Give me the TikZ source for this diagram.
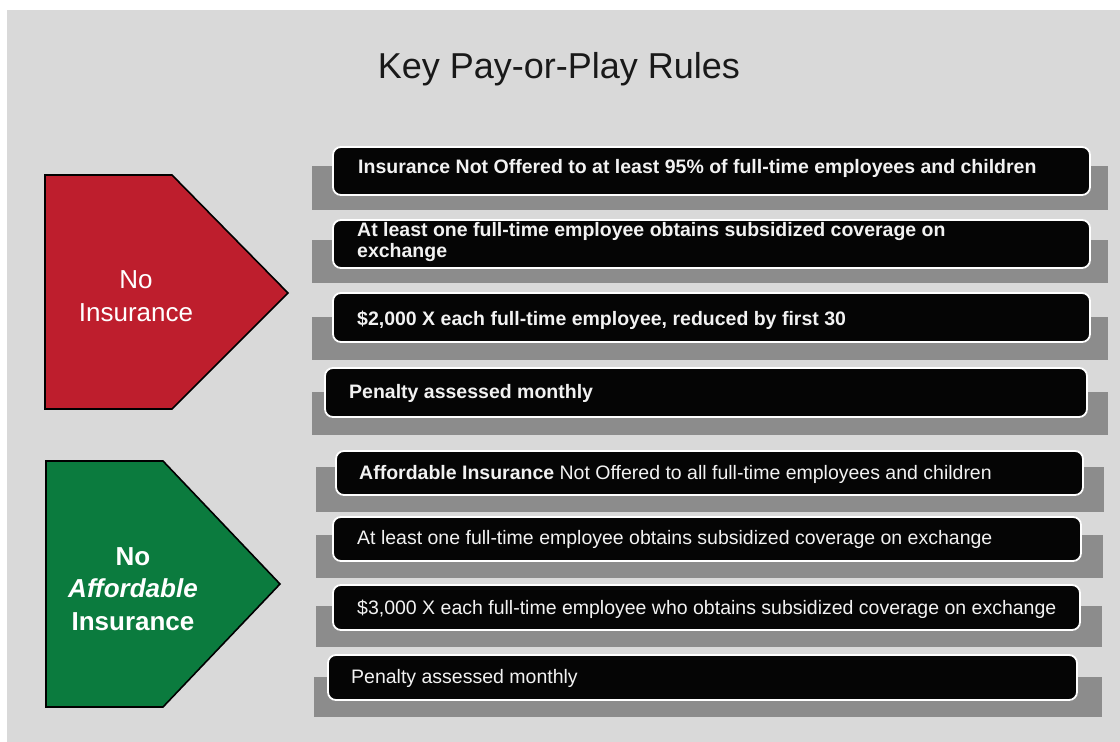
\documentclass[tikz,border=0pt]{standalone}
\usepackage{fontspec}
\setmainfont{Liberation Sans}
\begin{document}
\definecolor{pagegray}{HTML}{D9D9D9}
\definecolor{bargray}{HTML}{8C8C8C}
\definecolor{boxblack}{HTML}{050505}
\definecolor{arrowred}{HTML}{BE1E2D}
\definecolor{arrowgreen}{HTML}{0B7B3E}
\definecolor{boxtext}{HTML}{F2F2F2}
\begin{tikzpicture}[x=1pt,y=-1pt,
  bar/.style={fill=bargray},
  rulebox/.style={fill=boxblack,draw=white,line width=1.8pt,rounded corners=8pt},
  rowtext/.style={anchor=west,inner sep=0pt,text=boxtext,align=left,
    font=\fontsize{19.5}{19.5}\selectfont},
  boldrow/.style={rowtext,font=\bfseries\fontsize{19.5}{21.5}\selectfont},
  pentagon/.style={draw=black,line width=1.6pt,line join=miter},
  badge/.style={text=white,align=center,inner sep=0pt}]
\useasboundingbox (0,0) rectangle (1120,742);
\fill[white] (0,0) rectangle (1120,742);
\fill[pagegray] (7,10) rectangle (1120,742);

% title
\node[inner sep=0pt,text=black!90] (title) at (559,69)
  {\fontsize{36}{40}\selectfont Key Pay-or-Play Rules};

% left badges
\draw[pentagon,fill=arrowred] (45,175) -- (172,175) -- (288,293) -- (172,409) -- (45,409) -- cycle;
\node[badge,font=\fontsize{26}{33}\selectfont] (noins) at (136,296) {No\\Insurance};
\draw[pentagon,fill=arrowgreen] (46,461) -- (163,461) -- (280,584) -- (163,707) -- (46,707) -- cycle;
\node[badge,font=\bfseries\fontsize{26}{32.5}\selectfont] (noaff) at (133,589)
  {No\\\textit{Affordable}\\Insurance};

% upper group: no insurance
\fill[bar] (312,166) rectangle (1108,210);
\draw[rulebox] (333,147) rectangle (1090,195);
\node[boldrow] (u1) at (358,168)
  {Insurance Not Offered to at least 95\% of full-time employees and children};

\fill[bar] (312,240) rectangle (1108,283);
\draw[rulebox] (333,220) rectangle (1090,268);
\node[boldrow] (u2) at (357,242)
  {At least one full-time employee obtains subsidized coverage on\\exchange};

\fill[bar] (312,317) rectangle (1108,360);
\draw[rulebox] (333,293) rectangle (1090,342);
\node[boldrow] (u3) at (357,320)
  {\$2,000 X each full-time employee, reduced by first 30};

\fill[bar] (312,392) rectangle (1108,435);
\draw[rulebox] (325,368) rectangle (1087,417);
\node[boldrow] (u4) at (349,393)
  {Penalty assessed monthly};

% lower group: no affordable insurance
\fill[bar] (316,467) rectangle (1104,512);
\draw[rulebox] (336,451) rectangle (1083,495);
\node[rowtext] (l1) at (359,474)
  {\textbf{Affordable Insurance} Not Offered to all full-time employees and children};

\fill[bar] (316,535) rectangle (1103,578);
\draw[rulebox] (333,517) rectangle (1081,561);
\node[rowtext] (l2) at (357,539)
  {At least one full-time employee obtains subsidized coverage on exchange};

\fill[bar] (316,606) rectangle (1102,647);
\draw[rulebox] (333,585) rectangle (1080,630);
\node[rowtext] (l3) at (357,609)
  {\$3,000 X each full-time employee who obtains subsidized coverage on exchange};

\fill[bar] (314,677) rectangle (1102,717);
\draw[rulebox] (328,655) rectangle (1077,700);
\node[rowtext] (l4) at (351,678)
  {Penalty assessed monthly};
\end{tikzpicture}
\end{document}
